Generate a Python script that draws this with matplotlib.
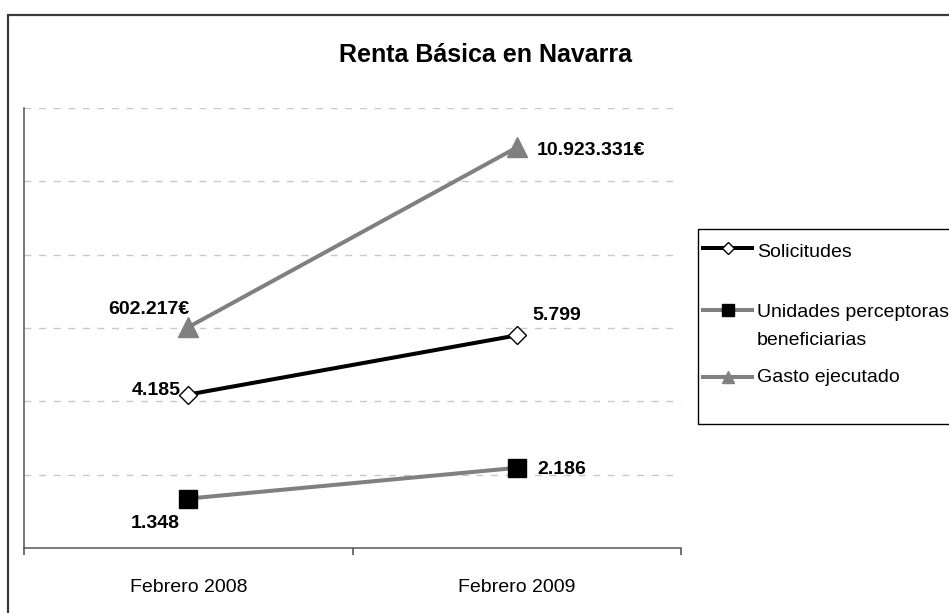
import matplotlib
matplotlib.use("Agg")
import matplotlib.pyplot as plt
from matplotlib.lines import Line2D
from matplotlib.patches import Rectangle

plt.rcParams['font.family'] = ['Liberation Sans', 'DejaVu Sans']

# ---- data ----
categories = ["Febrero 2008", "Febrero 2009"]
solicitudes = [4185, 5799]
unidades = [1348, 2186]
gasto_miles = [6022.17, 10923.331]          # plotted in thousands of euros
solicitudes_labels = ["4.185", "5.799"]
unidades_labels = ["1.348", "2.186"]
gasto_labels = ["602.217€", "10.923.331€"]
series_names = ["Solicitudes", "Unidades perceptoras\nbeneficiarias", "Gasto ejecutado"]
title = "Renta Básica en Navarra"

W, H = 949, 613
fig = plt.figure(figsize=(W / 100, H / 100), dpi=100)

def fx(px):
    return px / W

def fy(py):
    return 1 - py / H

ax = fig.add_axes([fx(24), fy(548), fx(681) - fx(24), fy(108) - fy(548)])

x = list(range(len(categories)))
GRAY = "#808080"
ln_sol, = ax.plot(x, solicitudes, color="black", lw=2.9, marker="D", ms=9.5,
                  mfc="white", mec="black", mew=1.0, zorder=4)
ln_uni, = ax.plot(x, unidades, color=GRAY, lw=2.9, marker="s", ms=12.5,
                  mfc="black", mec="black", zorder=4)
ln_gas, = ax.plot(x, gasto_miles, color=GRAY, lw=2.9, marker="^", ms=14.5,
                  mfc=GRAY, mec=GRAY, zorder=4)

ax.set_xlim(-0.5, len(categories) - 0.5)
ax.set_ylim(0, 12000)
ax.set_yticks([2000, 4000, 6000, 8000, 10000, 12000])
ax.yaxis.grid(True, color="#c8c8c8", lw=1.0, dashes=(5, 5.5))
ax.tick_params(axis="y", length=0, labelleft=False)
ax.set_xticks(x)
ax.set_xticklabels(categories, fontsize=14)
ax.set_xticks([-0.5, 0.5, 1.5], minor=True)
ax.tick_params(axis="x", which="major", length=0, pad=22)
ax.tick_params(axis="x", which="minor", length=5, width=1.2, color="#555555", direction="out")
for s in ["top", "right"]:
    ax.spines[s].set_visible(False)
for s in ["left", "bottom"]:
    ax.spines[s].set_color("#555555")
    ax.spines[s].set_linewidth(1.1)

lab = dict(textcoords="offset pixels", fontsize=14, fontweight="bold", va="baseline")
# data labels (offsets in pixels)
ax.annotate(gasto_labels[0], (x[0], gasto_miles[0]), xytext=(1, 13), ha="right", **lab)
ax.annotate(gasto_labels[1], (x[1], gasto_miles[1]), xytext=(20, -8), ha="left", **lab)
ax.annotate(solicitudes_labels[0], (x[0], solicitudes[0]), xytext=(-8, 0), ha="right", **lab)
ax.annotate(solicitudes_labels[1], (x[1], solicitudes[1]), xytext=(16, 15), ha="left", **lab)
ax.annotate(unidades_labels[0], (x[0], unidades[0]), xytext=(-8, -29), ha="right", **lab)
ax.annotate(unidades_labels[1], (x[1], unidades[1]), xytext=(21, -6), ha="left", **lab)

# title
fig.text(fx(486), fy(62), title, ha="center", va="baseline", fontsize=18, fontweight="bold")

# outer chart border
fig.patches.append(Rectangle((fx(8), fy(640)), fx(1000), fy(15) - fy(640),
                             transform=fig.transFigure, fill=False,
                             ec="#3a3a3a", lw=1.6))

# legend box (manually laid out, clipped at figure edge as in the reference)
fig.patches.append(Rectangle((fx(698), fy(424)), fx(300), fy(229) - fy(424),
                             transform=fig.transFigure, fill=False,
                             ec="black", lw=1.0))
leg_items = [
    (ln_sol, 248, 6.5, series_names[0], 257),
    (ln_uni, 310, 8.5, series_names[1], 317),
    (ln_gas, 377, 9.0, series_names[2], 382),
]
for line, yy, ms, name, base in leg_items:
    fig.lines.append(Line2D([fx(703), fx(752)], [fy(yy), fy(yy)],
                            transform=fig.transFigure, color=line.get_color(),
                            lw=line.get_linewidth()))
    fig.lines.append(Line2D([fx(728)], [fy(yy)], transform=fig.transFigure,
                            marker=line.get_marker(), ms=ms,
                            mfc=line.get_markerfacecolor(), mec=line.get_markeredgecolor(),
                            mew=1.0, lw=0))
    for i, part in enumerate(name.split("\n")):
        fig.text(fx(757), fy(base + 28 * i), part, ha="left", va="baseline", fontsize=14)

fig.savefig("out.png", dpi=100)
